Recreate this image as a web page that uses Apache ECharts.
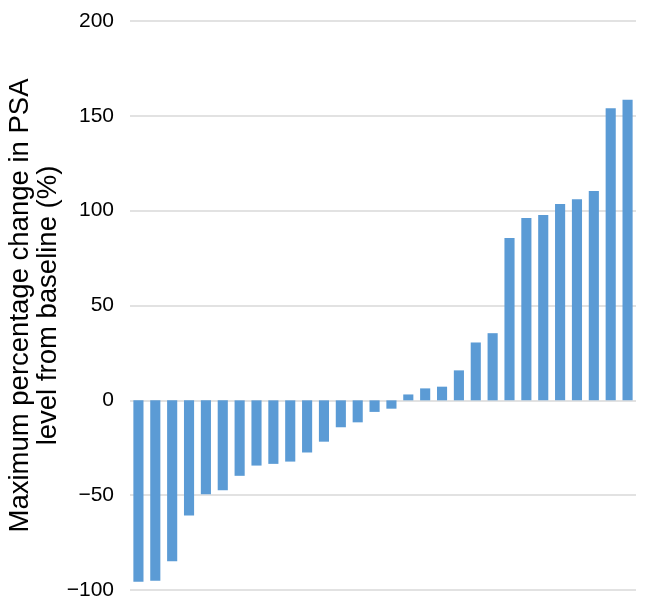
<!DOCTYPE html>
<html>
<head>
<meta charset="utf-8">
<script src="https://cdn.jsdelivr.net/npm/echarts@6/dist/echarts.min.js"></script>
<style>
  html, body { margin: 0; padding: 0; background: #fff; }
  #main { width: 657px; height: 614px; }
</style>
</head>
<body>
<div id="main"></div>
<script>
// one bar per patient, sorted (waterfall)
var patients = [];
for (var i = 1; i <= 30; i++) patients.push('P' + i);

var psaChange = [
    -95.6, -95.1, -84.9, -60.7, -49.5, -47.4, -39.8, -34.4, -33.5, -32.3,
    -27.5, -21.8, -14.2, -11.6, -6.1, -4.4, 3.1, 6.3, 7.2, 15.8,
    30.5, 35.4, 85.6, 96.1, 97.7, 103.5, 106.0, 110.4, 154.0, 158.5
];

var yTicks = [-100, -50, 0, 50, 100, 150, 200];

var chart = echarts.init(document.getElementById('main'));
var option = {
    animation: false,
    textStyle: { fontFamily: 'Liberation Sans, Arial, sans-serif' },
    grid: { left: 130, right: 21, top: 21, bottom: 24, outerBoundsMode: 'none', containLabel: false },
    xAxis: {
        type: 'category',
        data: patients,
        axisLine: { show: false },
        axisTick: { show: false },
        axisLabel: { show: false }
    },
    yAxis: {
        type: 'value',
        min: yTicks[0],
        max: yTicks[yTicks.length - 1],
        interval: 50,
        name: 'Maximum percentage change in PSA\nlevel from baseline (%)',
        nameLocation: 'middle',
        nameGap: 68,
        nameMoveOverlap: false,
        nameTextStyle: { fontSize: 27.5, color: '#000', lineHeight: 28 },
        axisLine: { show: false },
        axisTick: { show: false },
        axisLabel: {
            fontSize: 21,
            color: '#000',
            margin: 16,
            formatter: function (v) { return v < 0 ? '\u2212' + Math.abs(v) : String(v); }
        },
        splitLine: { lineStyle: { color: '#d9d9d9', width: 1.5 } }
    },
    series: [
        {
            type: 'bar',
            data: psaChange,
            barCategoryGap: '40%',
            itemStyle: { color: '#5b9bd5' }
        }
    ]
};
chart.setOption(option);
</script>
</body>
</html>
